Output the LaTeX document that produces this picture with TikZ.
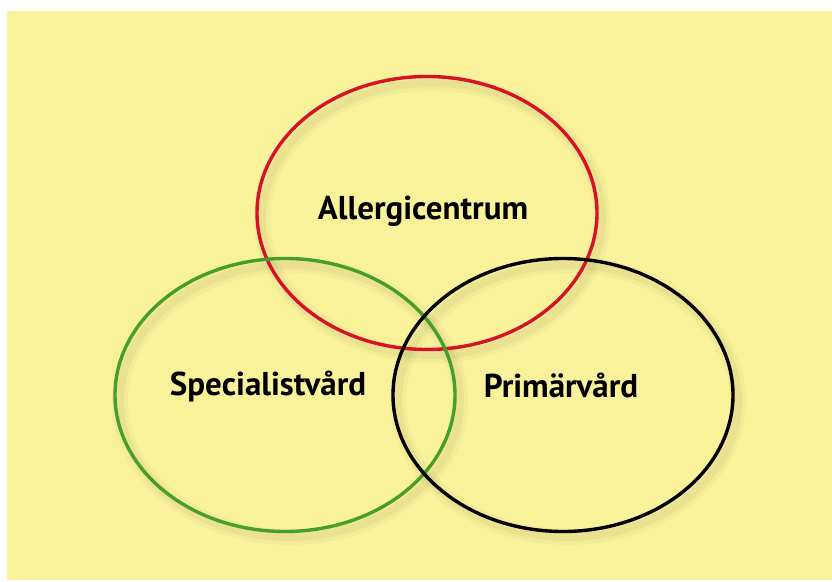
\documentclass[tikz,border=0pt]{standalone}
\usepackage{fontspec}
\setmainfont{PT Sans}
\usetikzlibrary{shapes.geometric}
\definecolor{paper}{RGB}{250,242,155}
\definecolor{ringred}{RGB}{214,18,38}
\definecolor{ringgreen}{RGB}{70,160,40}
\tikzset{
	ring/.style={ellipse, draw, line width=3.4pt, minimum width=340pt, minimum height=273pt, inner sep=0pt},
	ringshadow/.style={draw=black!70!paper, line width=16pt, opacity=0.04},
	ringshadowin/.style={draw=black!70!paper, line width=8pt, opacity=0.05},
	label/.style={font=\bfseries\fontsize{33}{33}\selectfont, inner sep=0pt}
}
\begin{document}
\begin{tikzpicture}[x=1pt,y=-1pt]
	\useasboundingbox (0,0) rectangle (832,581);
	\fill[paper] (7,11) rectangle (832,580);

	% soft shadows
	\foreach \cx/\cy in {432/219, 290/401, 568/401} {
		\draw[ringshadow] (\cx,\cy) ellipse (170 and 136);
		\draw[ringshadowin] (\cx,\cy) ellipse (170 and 136);
	}

	\node (allergi)		at (427,213) [ring, draw=ringred] {};
	\node (special)		at (285,395) [ring, draw=ringgreen] {};
	\node (primar)		at (563,395) [ring, draw=black] {};

	\node (allergitext)	at (423,211) [label] {Allergicentrum};
	\node (specialtext)	at (268,387) [label] {Specialistvård};
	\node (primartext)	at (561,385) [label] {Primärvård};
\end{tikzpicture}
\end{document}
